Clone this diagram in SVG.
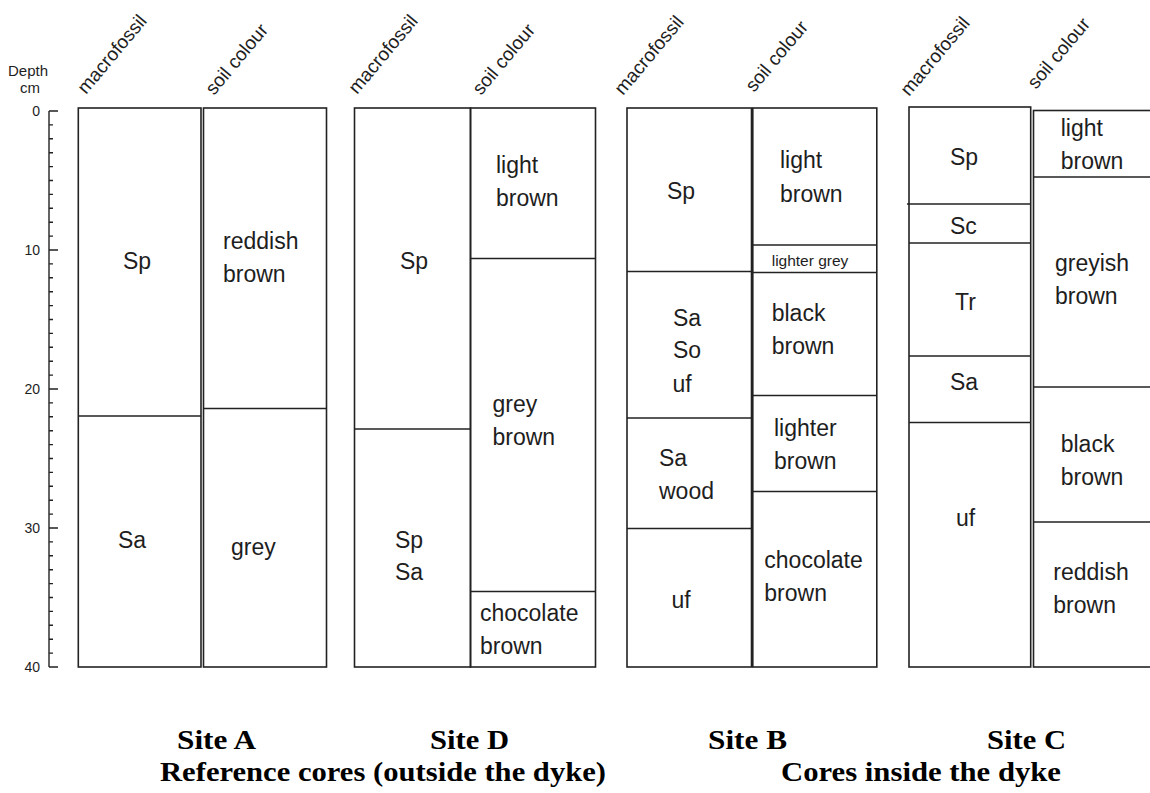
<svg xmlns="http://www.w3.org/2000/svg" width="1150" height="793" viewBox="0 0 1150 793">
<style>
.box{fill:none;stroke:#222;stroke-width:1.6}
.div{stroke:#222;stroke-width:1.6}
.tk{stroke:#222;stroke-width:1.4}
.lb{font-family:"Liberation Sans",Arial,sans-serif;font-size:23px;fill:#1e1e1e}
.sm{font-family:"Liberation Sans",Arial,sans-serif;font-size:15.5px;fill:#1e1e1e}
.hd{font-family:"Liberation Sans",Arial,sans-serif;font-size:19px;fill:#1e1e1e}
.dp{font-family:"Liberation Sans",Arial,sans-serif;font-size:15px;fill:#1e1e1e}
.ax{font-family:"Liberation Sans",Arial,sans-serif;font-size:14px;fill:#1e1e1e}
.ti{font-family:"Liberation Serif","Times New Roman",serif;font-size:28px;font-weight:bold;fill:#000}
</style>
<rect width="1150" height="793" fill="#fff"/>

<g id="axis">
  <text class="dp" x="8" y="76">Depth</text>
  <text class="dp" x="30" y="93" text-anchor="middle">cm</text>
  <line class="tk" x1="49" y1="111" x2="49" y2="667"/>
  <path class="tk" fill="none" d="M49 111H58M49 250H58M49 389H58M49 528H58M49 667H58
  M49 124.9H53M49 138.8H53M49 152.7H53M49 166.6H53M49 180.5H53M49 194.4H53M49 208.3H53M49 222.2H53M49 236.1H53
  M49 263.9H53M49 277.8H53M49 291.7H53M49 305.6H53M49 319.5H53M49 333.4H53M49 347.3H53M49 361.2H53M49 375.1H53
  M49 402.9H53M49 416.8H53M49 430.7H53M49 444.6H53M49 458.5H53M49 472.4H53M49 486.3H53M49 500.2H53M49 514.1H53
  M49 541.9H53M49 555.8H53M49 569.7H53M49 583.6H53M49 597.5H53M49 611.4H53M49 625.3H53M49 639.2H53M49 653.1H53"/>
  <text class="ax" x="40" y="116" text-anchor="end">0</text>
  <text class="ax" x="40" y="255" text-anchor="end">10</text>
  <text class="ax" x="40" y="394" text-anchor="end">20</text>
  <text class="ax" x="40" y="533" text-anchor="end">30</text>
  <text class="ax" x="40" y="672" text-anchor="end">40</text>
</g>

<g id="headers">
  <text class="hd" transform="translate(86,95) rotate(-50)">macrofossil</text>
  <text class="hd" transform="translate(214,96) rotate(-50)">soil colour</text>
  <text class="hd" transform="translate(357,95) rotate(-50)">macrofossil</text>
  <text class="hd" transform="translate(481,96) rotate(-50)">soil colour</text>
  <text class="hd" transform="translate(623,96) rotate(-50)">macrofossil</text>
  <text class="hd" transform="translate(754,93) rotate(-50)">soil colour</text>
  <text class="hd" transform="translate(909,97) rotate(-50)">macrofossil</text>
  <text class="hd" transform="translate(1036,90) rotate(-50)">soil colour</text>
</g>

<g id="siteA-macrofossil">
  <rect class="box" x="78.3" y="108" width="122.7" height="559"/>
  <line class="div" x1="78.3" y1="416" x2="201" y2="416"/>
  <text class="lb" x="123" y="269">Sp</text>
  <text class="lb" x="118" y="548">Sa</text>
</g>
<g id="siteA-soil">
  <rect class="box" x="203.5" y="108" width="123" height="559"/>
  <line class="div" x1="203.5" y1="408.5" x2="326.5" y2="408.5"/>
  <text class="lb" x="223" y="249">reddish</text>
  <text class="lb" x="223" y="281.5">brown</text>
  <text class="lb" x="231" y="555">grey</text>
</g>

<g id="siteD-macrofossil">
  <rect class="box" x="354.5" y="108" width="116" height="559"/>
  <line class="div" x1="354.5" y1="429" x2="470.5" y2="429"/>
  <text class="lb" x="400" y="269">Sp</text>
  <text class="lb" x="395" y="548">Sp</text>
  <text class="lb" x="395" y="580">Sa</text>
</g>
<g id="siteD-soil">
  <rect class="box" x="470.5" y="108" width="125" height="559"/>
  <line class="div" x1="470.5" y1="258.5" x2="595.5" y2="258.5"/>
  <line class="div" x1="470.5" y1="591.5" x2="595.5" y2="591.5"/>
  <text class="lb" x="496" y="172.5">light</text>
  <text class="lb" x="496" y="206">brown</text>
  <text class="lb" x="492.5" y="412">grey</text>
  <text class="lb" x="492.5" y="444.5">brown</text>
  <text class="lb" x="480" y="620.5">chocolate</text>
  <text class="lb" x="480" y="654">brown</text>
</g>

<g id="siteB-macrofossil">
  <rect class="box" x="627" y="108" width="124.5" height="559"/>
  <line class="div" x1="627" y1="271.5" x2="751.5" y2="271.5"/>
  <line class="div" x1="627" y1="418" x2="751.5" y2="418"/>
  <line class="div" x1="627" y1="528.5" x2="751.5" y2="528.5"/>
  <text class="lb" x="667" y="198.5">Sp</text>
  <text class="lb" x="673" y="325.5">Sa</text>
  <text class="lb" x="673" y="358">So</text>
  <text class="lb" x="672.5" y="392">uf</text>
  <text class="lb" x="659" y="466">Sa</text>
  <text class="lb" x="659" y="499">wood</text>
  <text class="lb" x="671.5" y="607.5">uf</text>
</g>
<g id="siteB-soil">
  <rect class="box" x="752.8" y="108" width="124" height="559"/>
  <line class="div" x1="752.8" y1="245" x2="876.8" y2="245"/>
  <line class="div" x1="752.8" y1="272.5" x2="876.8" y2="272.5"/>
  <line class="div" x1="752.8" y1="395.5" x2="876.8" y2="395.5"/>
  <line class="div" x1="752.8" y1="491.5" x2="876.8" y2="491.5"/>
  <text class="lb" x="780" y="168">light</text>
  <text class="lb" x="780" y="201.5">brown</text>
  <text class="sm" x="771.7" y="265.5">lighter grey</text>
  <text class="lb" x="771.7" y="321">black</text>
  <text class="lb" x="771.7" y="354">brown</text>
  <text class="lb" x="774" y="436">lighter</text>
  <text class="lb" x="774" y="469">brown</text>
  <text class="lb" x="764.3" y="568">chocolate</text>
  <text class="lb" x="764.3" y="601">brown</text>
</g>

<g id="siteC-macrofossil">
  <rect class="box" x="909" y="107" width="121.7" height="560"/>
  <line class="div" x1="907" y1="204" x2="1030.7" y2="204"/>
  <line class="div" x1="909" y1="243" x2="1030.7" y2="243"/>
  <line class="div" x1="909" y1="356" x2="1030.7" y2="356"/>
  <line class="div" x1="909" y1="422.5" x2="1030.7" y2="422.5"/>
  <text class="lb" x="950" y="165">Sp</text>
  <text class="lb" x="950" y="234">Sc</text>
  <text class="lb" x="955" y="310">Tr</text>
  <text class="lb" x="950" y="390">Sa</text>
  <text class="lb" x="956" y="525.5">uf</text>
</g>
<g id="siteC-soil">
  <rect class="box" x="1033.5" y="110.5" width="130" height="556.5"/>
  <line class="div" x1="1033.5" y1="177" x2="1150" y2="177"/>
  <line class="div" x1="1033.5" y1="387" x2="1150" y2="387"/>
  <line class="div" x1="1033.5" y1="522" x2="1150" y2="522"/>
  <text class="lb" x="1060.7" y="135.5">light</text>
  <text class="lb" x="1060.7" y="169">brown</text>
  <text class="lb" x="1055" y="271">greyish</text>
  <text class="lb" x="1055" y="304">brown</text>
  <text class="lb" x="1060.7" y="451.5">black</text>
  <text class="lb" x="1060.7" y="485">brown</text>
  <text class="lb" x="1053.3" y="579.5">reddish</text>
  <text class="lb" x="1053.3" y="613">brown</text>
</g>

<g id="captions">
  <text class="ti" x="177" y="749" textLength="79" lengthAdjust="spacingAndGlyphs">Site A</text>
  <text class="ti" x="430" y="749" textLength="79" lengthAdjust="spacingAndGlyphs">Site D</text>
  <text class="ti" x="708" y="749" textLength="79" lengthAdjust="spacingAndGlyphs">Site B</text>
  <text class="ti" x="987" y="749" textLength="79" lengthAdjust="spacingAndGlyphs">Site C</text>
  <text class="ti" x="160" y="781" textLength="446" lengthAdjust="spacingAndGlyphs">Reference cores (outside the dyke)</text>
  <text class="ti" x="781" y="781" textLength="280" lengthAdjust="spacingAndGlyphs">Cores inside the dyke</text>
</g>
</svg>
